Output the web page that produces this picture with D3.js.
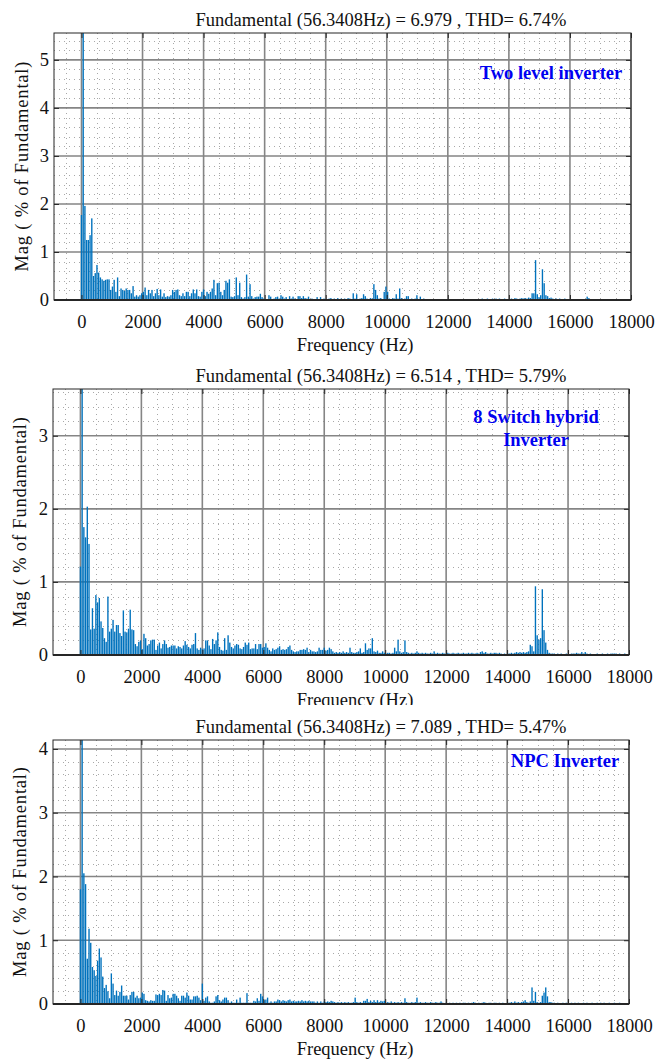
<!DOCTYPE html>
<meta charset="utf-8">
<script src="https://d3js.org/d3.v7.min.js"></script>
<style>
  body { margin: 0; background: #fff; }
  svg, text { font-family: "Liberation Serif", "Times New Roman", serif; }
</style>
<div id="chart"></div>
<script>

var width = 660, height = 1059
var fundHz = 56.3408

// harmonic spectrum, index = harmonic order (0 = DC), % of fundamental
var twoLevel = [
  1.77, 100, 1.96, 1.25, 1.25, 1.35, 1.70, 0.50, 0.56, 0.73,
  0.57, 0.47, 0.43, 0.40, 0.42, 0.43, 0.43, 0.21, 0.28, 0.42,
  0.17, 0.47, 0.08, 0.24, 0.21, 0.19, 0.24, 0.21, 0.21, 0.14,
  0.29, 0.07, 0.10, 0.07, 0.10, 0.14, 0.17, 0.26, 0.10, 0.21,
  0.14, 0.21, 0.08, 0.14, 0.23, 0.10, 0.22, 0.07, 0.14, 0.06,
  0.08, 0.07, 0.10, 0.21, 0.17, 0.21, 0.22, 0.10, 0.08, 0.14,
  0.08, 0.17, 0.17, 0.08, 0.14, 0.22, 0.14, 0.22, 0.08, 0.07,
  0.17, 0.22, 0.08, 0.17, 0.13, 0.17, 0.24, 0.42, 0.10, 0.35,
  0.36, 0.17, 0.10, 0.21, 0.40, 0.36, 0.43, 0.07, 0.06, 0.08,
  0.47, 0.10, 0.36, 0.06, 0.03, 0.06, 0.53, 0.07, 0.33, 0.08,
  0.03, 0.06, 0.07, 0.07, 0.13, 0.06, 0.03, 0.02, 0.02, 0.10,
  0.07, 0.02, 0.03, 0.06, 0.07, 0.03, 0.10, 0.07, 0.03, 0.06,
  0.02, 0.08, 0.03, 0.07, 0.03, 0.02, 0.08, 0.08, 0.04, 0.08,
  0.04, 0.03, 0.07, 0.02, 0.03, 0.02, 0.02, 0.06, 0.02, 0.06,
  0.02, 0.03, 0.02, 0.02, 0.03, 0.04, 0.02, 0.03, 0.02, 0.04,
  0.02, 0.03, 0.02, 0.03, 0.02, 0.04, 0.03, 0.02, 0.14, 0.03,
  0.12, 0.02, 0.03, 0.04, 0.12, 0.08, 0.03, 0.02, 0.04, 0.03,
  0.33, 0.21, 0.10, 0.03, 0.04, 0.02, 0.17, 0.28, 0.17, 0.03,
  0.02, 0.04, 0.03, 0.12, 0.03, 0.24, 0.04, 0.02, 0.03, 0.08,
  0.08, 0.02, 0.03, 0.02, 0.03, 0.10, 0.02, 0.07, 0.02, 0.03,
  0.02, 0.01, 0.02, 0.01, 0.02, 0.02, 0.02, 0.01, 0.02, 0.01,
  0.02, 0.01, 0.01, 0.02, 0.01, 0.02, 0.01, 0.01, 0.02, 0.01,
  0.01, 0.02, 0.01, 0.01, 0.02, 0.01, 0.02, 0.01, 0.02, 0.01,
  0.02, 0.02, 0.01, 0.03, 0.02, 0.02, 0.03, 0.02, 0.02, 0.03,
  0.02, 0.03, 0.02, 0.03, 0.02, 0.02, 0.03, 0.02, 0.01, 0.02,
  0.03, 0.02, 0.04, 0.03, 0.02, 0.03, 0.04, 0.03, 0.04, 0.03,
  0.05, 0.04, 0.14, 0.14, 0.83, 0.12, 0.06, 0.10, 0.64, 0.35,
  0.10, 0.08, 0.04, 0.05, 0.03, 0.02, 0.03, 0.02, 0.03, 0.02,
  0.02, 0.03, 0.02, 0.01, 0.02, 0.01, 0.02, 0.01, 0.01, 0.02,
  0.01, 0.02, 0.01, 0.02, 0.07, 0.04, 0.02, 0.01, 0.02, 0.01,
  0.01, 0.02, 0.01, 0.01, 0.02, 0.01, 0.01, 0.02, 0.01, 0.01,
  0.02, 0.02, 0.01, 0.02, 0.02, 0.01, 0.01, 0.01, 0.02, 0.01
]

var hybrid = [
  1.21, 100, 1.75, 1.61, 2.03, 1.52, 0.35, 0.64, 0.36, 0.82,
  0.72, 0.78, 0.46, 0.37, 0.23, 0.18, 0.80, 0.32, 0.36, 0.48,
  0.32, 0.41, 0.41, 0.30, 0.26, 0.61, 0.32, 0.31, 0.36, 0.62,
  0.35, 0.34, 0.15, 0.12, 0.18, 0.20, 0.08, 0.29, 0.23, 0.13,
  0.15, 0.20, 0.21, 0.21, 0.07, 0.13, 0.17, 0.09, 0.15, 0.20,
  0.15, 0.10, 0.11, 0.13, 0.13, 0.13, 0.09, 0.12, 0.11, 0.09,
  0.13, 0.19, 0.14, 0.11, 0.09, 0.14, 0.15, 0.30, 0.09, 0.07,
  0.10, 0.08, 0.09, 0.20, 0.20, 0.13, 0.08, 0.22, 0.15, 0.20,
  0.31, 0.11, 0.07, 0.06, 0.23, 0.07, 0.27, 0.17, 0.11, 0.09,
  0.13, 0.15, 0.14, 0.09, 0.08, 0.11, 0.17, 0.14, 0.17, 0.08,
  0.09, 0.09, 0.15, 0.08, 0.15, 0.15, 0.10, 0.11, 0.16, 0.10,
  0.07, 0.05, 0.09, 0.07, 0.08, 0.10, 0.12, 0.07, 0.08, 0.07,
  0.08, 0.11, 0.13, 0.07, 0.05, 0.04, 0.05, 0.05, 0.07, 0.07,
  0.08, 0.07, 0.10, 0.04, 0.07, 0.05, 0.05, 0.04, 0.05, 0.10,
  0.07, 0.07, 0.10, 0.06, 0.07, 0.10, 0.08, 0.05, 0.03, 0.04,
  0.03, 0.04, 0.03, 0.05, 0.03, 0.04, 0.03, 0.10, 0.04, 0.03,
  0.03, 0.04, 0.05, 0.09, 0.03, 0.04, 0.16, 0.07, 0.09, 0.09,
  0.23, 0.05, 0.04, 0.06, 0.03, 0.03, 0.05, 0.03, 0.02, 0.03,
  0.03, 0.02, 0.03, 0.10, 0.05, 0.21, 0.05, 0.03, 0.04, 0.20,
  0.04, 0.03, 0.02, 0.03, 0.02, 0.03, 0.05, 0.03, 0.02, 0.03,
  0.02, 0.03, 0.02, 0.02, 0.03, 0.02, 0.05, 0.02, 0.03, 0.02,
  0.02, 0.03, 0.02, 0.02, 0.03, 0.02, 0.02, 0.03, 0.02, 0.02,
  0.03, 0.02, 0.02, 0.03, 0.02, 0.02, 0.03, 0.02, 0.03, 0.02,
  0.02, 0.03, 0.02, 0.04, 0.05, 0.03, 0.04, 0.02, 0.02, 0.03,
  0.02, 0.03, 0.03, 0.02, 0.03, 0.02, 0.01, 0.02, 0.01, 0.02,
  0.02, 0.03, 0.02, 0.03, 0.04, 0.03, 0.04, 0.03, 0.04, 0.03,
  0.04, 0.05, 0.14, 0.12, 0.05, 0.94, 0.27, 0.21, 0.23, 0.90,
  0.34, 0.17, 0.07, 0.03, 0.02, 0.02, 0.02, 0.01, 0.02, 0.01,
  0.02, 0.01, 0.01, 0.02, 0.01, 0.01, 0.02, 0.02, 0.02, 0.03,
  0.02, 0.02, 0.04, 0.02, 0.04, 0.02, 0.01, 0.02, 0.01, 0.01,
  0.01, 0.02, 0.01, 0.01, 0.02, 0.01, 0.01, 0.02, 0.01, 0.02,
  0.02, 0.02, 0.02, 0.01, 0.02, 0.01, 0.01, 0.02, 0.01, 0.01
]

var npc = [
  1.80, 100, 2.05, 1.88, 0.71, 1.18, 0.96, 0.58, 0.53, 0.44,
  0.68, 0.87, 0.73, 0.43, 0.25, 0.30, 0.20, 0.09, 0.48, 0.32,
  0.14, 0.21, 0.13, 0.19, 0.29, 0.13, 0.13, 0.13, 0.07, 0.14,
  0.19, 0.19, 0.10, 0.13, 0.09, 0.10, 0.18, 0.16, 0.06, 0.05,
  0.04, 0.06, 0.05, 0.05, 0.15, 0.14, 0.16, 0.14, 0.22, 0.21,
  0.05, 0.14, 0.09, 0.10, 0.16, 0.16, 0.13, 0.09, 0.05, 0.13,
  0.13, 0.10, 0.18, 0.13, 0.07, 0.07, 0.12, 0.12, 0.13, 0.10,
  0.06, 0.32, 0.05, 0.10, 0.12, 0.04, 0.02, 0.02, 0.04, 0.12,
  0.14, 0.06, 0.04, 0.07, 0.10, 0.10, 0.06, 0.02, 0.04, 0.02,
  0.02, 0.07, 0.02, 0.10, 0.02, 0.02, 0.02, 0.17, 0.02, 0.02,
  0.02, 0.05, 0.04, 0.09, 0.05, 0.16, 0.12, 0.06, 0.07, 0.10,
  0.02, 0.04, 0.02, 0.04, 0.04, 0.07, 0.06, 0.04, 0.06, 0.05,
  0.04, 0.06, 0.07, 0.04, 0.05, 0.04, 0.04, 0.05, 0.04, 0.06,
  0.04, 0.05, 0.04, 0.05, 0.04, 0.04, 0.04, 0.02, 0.04, 0.02,
  0.04, 0.02, 0.04, 0.03, 0.04, 0.03, 0.05, 0.04, 0.03, 0.02,
  0.03, 0.02, 0.03, 0.02, 0.03, 0.02, 0.03, 0.02, 0.02, 0.03,
  0.10, 0.03, 0.02, 0.03, 0.02, 0.05, 0.05, 0.08, 0.03, 0.05,
  0.03, 0.06, 0.03, 0.06, 0.03, 0.05, 0.04, 0.05, 0.02, 0.03,
  0.02, 0.04, 0.02, 0.03, 0.02, 0.03, 0.02, 0.03, 0.02, 0.09,
  0.03, 0.02, 0.02, 0.03, 0.02, 0.03, 0.10, 0.02, 0.03, 0.02,
  0.02, 0.03, 0.02, 0.02, 0.03, 0.02, 0.02, 0.03, 0.02, 0.02,
  0.04, 0.02, 0.01, 0.02, 0.01, 0.02, 0.01, 0.02, 0.01, 0.02,
  0.01, 0.02, 0.01, 0.02, 0.02, 0.01, 0.02, 0.01, 0.02, 0.03,
  0.02, 0.01, 0.02, 0.01, 0.02, 0.03, 0.02, 0.01, 0.02, 0.02,
  0.01, 0.02, 0.02, 0.01, 0.02, 0.01, 0.02, 0.01, 0.01, 0.02,
  0.02, 0.03, 0.02, 0.04, 0.02, 0.03, 0.02, 0.03, 0.04, 0.06,
  0.03, 0.02, 0.04, 0.26, 0.05, 0.19, 0.03, 0.02, 0.03, 0.13,
  0.18, 0.26, 0.12, 0.03, 0.03, 0.02, 0.02, 0.01, 0.02, 0.01,
  0.01, 0.02, 0.01, 0.02, 0.01, 0.01, 0.02, 0.01, 0.02, 0.01,
  0.02, 0.01, 0.01, 0.02, 0.01, 0.02, 0.01, 0.01, 0.02, 0.01,
  0.01, 0.02, 0.01, 0.02, 0.01, 0.02, 0.01, 0.01, 0.02, 0.01,
  0.01, 0.02, 0.01, 0.01, 0.02, 0.01, 0.01, 0.01, 0.01, 0.01
]

var xTicks = [0, 2000, 4000, 6000, 8000, 10000, 12000, 14000, 16000, 18000]
var titles = [
  "Fundamental (56.3408Hz) = 6.979 , THD= 6.74%",
  "Fundamental (56.3408Hz) = 6.514 , THD= 5.79%",
  "Fundamental (56.3408Hz) = 7.089 , THD= 5.47%"
]
var notes = [["Two level inverter"], ["8 Switch hybrid", "Inverter"], ["NPC Inverter"]]
var yMax = [5.56, 3.64, 4.14]

var serif = "'Liberation Serif', 'Times New Roman', serif"

// layout of the three stacked panels
var panels = [
  {data: twoLevel, left: 54, right: 631, top: 33, bottom: 300, ylab: 22, noteX: 551, noteY: 79},
  {data: hybrid, left: 53, right: 629, top: 389, bottom: 655, ylab: 20, noteX: 536, noteY: 423},
  {data: npc, left: 53, right: 629, top: 740, bottom: 1004, ylab: 20, noteX: 565, noteY: 767}
]

var svg = d3.select("#chart").append("svg")
    .attr("width", width)
    .attr("height", height)
    .style("font-family", serif)

svg.append("rect").attr("width", width).attr("height", height).attr("fill", "#fff")

// put thin lines on pixel centres so dots stay crisp
function px(v) { return Math.round(v) + 0.5 }

panels.forEach(function(p, i) {
    var x = d3.scaleLinear().domain([-900, 18000]).range([p.left, p.right])
    var y = d3.scaleLinear().domain([0, yMax[i]]).range([p.bottom, p.top])
    var g = svg.append("g")

    g.append("clipPath").attr("id", "clip" + i)
      .append("rect")
        .attr("x", p.left).attr("y", p.top)
        .attr("width", p.right - p.left).attr("height", p.bottom - p.top)

    // minor grid (dotted)
    var minorX = d3.range(-500, 18000, 500).filter(function(v) { return v % 2000 != 0 })
    var minorY = d3.range(1, Math.floor(yMax[i] * 5) + 1).filter(function(v) { return v % 5 != 0 })
        .map(function(v) { return v / 5 })
    g.selectAll(".mx").data(minorX).enter().append("line")
        .attr("x1", d => px(x(d))).attr("x2", d => px(x(d)))
        .attr("y1", p.top).attr("y2", p.bottom)
        .attr("stroke", "#a8a8a8").attr("stroke-width", 1).attr("stroke-dasharray", "1,4")
    g.selectAll(".my").data(minorY).enter().append("line")
        .attr("x1", p.left).attr("x2", p.right)
        .attr("y1", d => px(y(d))).attr("y2", d => px(y(d)))
        .attr("stroke", "#a8a8a8").attr("stroke-width", 1).attr("stroke-dasharray", "1,4")

    // major grid
    var yTicks = d3.range(0, Math.floor(yMax[i]) + 1)
    g.selectAll(".gx").data(xTicks).enter().append("line")
        .attr("x1", d => x(d)).attr("x2", d => x(d))
        .attr("y1", p.top).attr("y2", p.bottom)
        .attr("stroke", "#858585").attr("stroke-width", 1.6)
    g.selectAll(".gy").data(yTicks).enter().append("line")
        .attr("x1", p.left).attr("x2", p.right)
        .attr("y1", d => y(d)).attr("y2", d => y(d))
        .attr("stroke", "#858585").attr("stroke-width", 1.6)

    // bars
    var bw = x(fundHz * 0.8) - x(0)
    g.append("g").attr("clip-path", "url(#clip" + i + ")")
      .selectAll("rect").data(p.data).enter().append("rect")
        .attr("x", (d, k) => x(k * fundHz) - bw / 2)
        .attr("y", d => y(d))
        .attr("width", bw)
        .attr("height", d => y(0) - y(d))
        .attr("fill", "#0072BD")

    // axes with inward ticks
    g.append("g").attr("transform", "translate(0," + p.bottom + ")")
        .call(d3.axisBottom(x).tickValues(xTicks).tickSize(-5).tickPadding(15).tickFormat(d3.format("d")))
    g.append("g").attr("transform", "translate(" + p.left + ",0)")
        .call(d3.axisLeft(y).tickValues(yTicks).tickSize(-5).tickPadding(5).tickFormat(d3.format("d")))
    g.append("g").attr("transform", "translate(" + p.right + ",0)")
        .call(d3.axisRight(y).tickValues(yTicks).tickSize(-5).tickFormat(""))
    g.append("g").attr("transform", "translate(0," + p.top + ")")
        .call(d3.axisTop(x).tickValues(xTicks).tickSize(-5).tickFormat(""))
    g.selectAll(".domain").remove()
    g.selectAll("g").attr("font-family", serif)
    g.selectAll(".tick line").attr("stroke", "#262626")
    g.selectAll(".tick text").attr("font-size", 18.5).attr("fill", "#111")
        .attr("font-family", serif)

    g.append("rect")
        .attr("x", p.left).attr("y", p.top)
        .attr("width", p.right - p.left).attr("height", p.bottom - p.top)
        .attr("fill", "none").attr("stroke", "#262626").attr("stroke-width", 1)
    g.append("line")
        .attr("x1", p.left).attr("x2", p.right)
        .attr("y1", p.bottom).attr("y2", p.bottom)
        .attr("stroke", "#262626").attr("stroke-width", 1.8)

    // title
    g.append("text")
        .attr("x", 381).attr("y", p.top - 7)
        .attr("text-anchor", "middle").attr("font-size", 18.5).attr("fill", "#111")
        .attr("font-family", serif)
        .text(titles[i])

    // x label (middle one is partly covered by the next panel)
    var xl = g.append("text")
        .attr("x", 355).attr("y", p.bottom + 51)
        .attr("text-anchor", "middle").attr("font-size", 18.5).attr("fill", "#111")
        .attr("font-family", serif)
        .text("Frequency (Hz)")
    if (i == 1) {
        g.append("clipPath").attr("id", "xlclip")
          .append("rect").attr("x", 0).attr("y", 600).attr("width", width).attr("height", 105)
        xl.attr("clip-path", "url(#xlclip)")
    }

    // y label
    g.append("text")
        .attr("transform", "translate(" + p.ylab + "," + (p.top + p.bottom) / 2 + ") rotate(-90)")
        .attr("text-anchor", "middle").attr("dy", "0.35em")
        .attr("font-size", 18.5).attr("fill", "#111")
        .attr("font-family", serif)
        .attr("textLength", 210).attr("lengthAdjust", "spacing")
        .text("Mag ( % of Fundamental)")

    // annotation
    g.append("text")
        .attr("x", p.noteX).attr("y", p.noteY)
        .attr("text-anchor", "middle").attr("font-size", 18.5).attr("font-weight", "bold")
        .attr("font-family", serif)
        .attr("fill", "#0000f0")
      .selectAll("tspan").data(notes[i]).enter().append("tspan")
        .attr("x", p.noteX).attr("dy", (d, j) => j == 0 ? 0 : 22.5)
        .text(d => d)
})

</script>
